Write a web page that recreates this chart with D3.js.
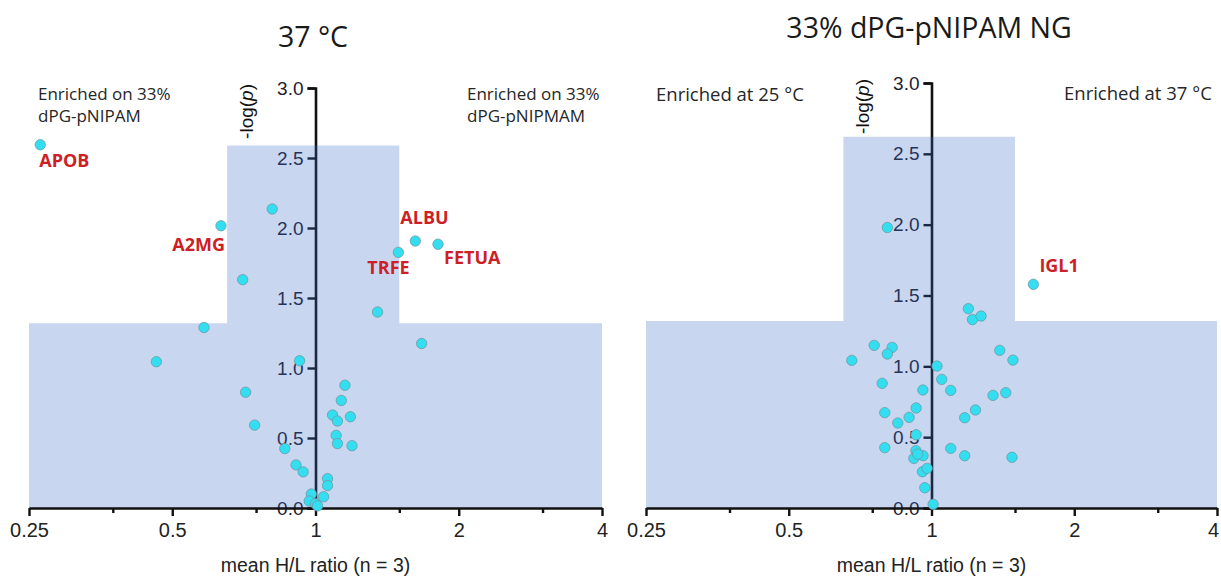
<!DOCTYPE html>
<html><head><meta charset="utf-8">
<script src="https://cdn.jsdelivr.net/npm/d3@7"></script>
<style>body{margin:0;background:#fff} svg{display:block}</style>
</head><body>
<svg id="chart" width="1221" height="577"></svg>
<script>
// ---- tick data ----
const xTicks = [0.25, 0.5, 1, 2, 4];
const xTickLabels = ["0.25", "0.5", "1", "2", "4"];
const xMinorTicks = [0.375, 0.75, 1.5, 3];
const yTicks = [0, 0.5, 1, 1.5, 2, 2.5, 3];
const yTickLabels = ["0.0", "0.5", "1.0", "1.5", "2.0", "2.5", "3.0"];

// ---- shaded significance region (ratio bounds, -log(p) heights) ----
const shadeRatioBounds = [0.652, 1.5];
const shadeHeightsLeft = [1.32, 2.59];
const shadeHeightsRight = [1.32, 2.62];

// ---- left panel: 37 °C ----
const leftRatio = [0.264, 0.633, 0.811, 0.703, 1.493, 1.621, 1.809, 1.35, 0.583, 0.463,
  0.926, 1.671, 0.713, 0.745, 0.862, 0.910, 0.942, 0.98, 0.97, 1.0, 1.01, 1.04, 1.06, 1.06,
  1.153, 1.133, 1.086, 1.112, 1.184, 1.105, 1.112, 1.193];
const leftLogP = [2.595, 2.016, 2.136, 1.631, 1.826, 1.907, 1.884, 1.40, 1.289, 1.045,
  1.052, 1.175, 0.827, 0.592, 0.424, 0.308, 0.258, 0.10, 0.05, 0.03, 0.015, 0.08, 0.21, 0.16,
  0.877, 0.768, 0.664, 0.621, 0.652, 0.519, 0.46, 0.445];
const leftNames = ["APOB", "A2MG", "", "", "TRFE", "ALBU", "FETUA"];

// ---- right panel: 33% dPG-pNIPAM NG ----
const rightRatio = [0.807, 1.64, 1.196, 1.22, 1.272, 0.757, 0.826, 0.807, 0.679, 1.393,
  1.485, 1.027, 1.051, 1.098, 0.787, 0.959, 1.348, 1.434, 0.797, 0.928, 0.897, 0.849,
  1.238, 1.175, 0.928, 0.797, 0.927, 0.918, 0.96, 0.935, 1.098, 1.175, 1.478, 0.957,
  0.979, 0.968, 1.008];
const rightLogP = [1.98, 1.579, 1.407, 1.33, 1.355, 1.148, 1.134, 1.087, 1.042, 1.113,
  1.044, 1.002, 0.908, 0.830, 0.88, 0.833, 0.795, 0.814, 0.673, 0.706, 0.64, 0.60,
  0.692, 0.637, 0.517, 0.426, 0.405, 0.35, 0.369, 0.38, 0.421, 0.369, 0.358, 0.256,
  0.28, 0.143, 0.026];
const rightNames = ["", "IGL1"];

const svg = d3.select("#chart");
const FONT_AX = "'Liberation Sans', Arial, sans-serif";
const FONT_TX = "'Open Sans', 'Noto Sans', sans-serif";

const panels = [
  { title: "37 °C", titleX: 313, titleY: 47,
    xr: [29, 602], yr: [508, 88], lastShift: 0,
    ratio: leftRatio, logp: leftLogP, names: leftNames, shadeH: shadeHeightsLeft,
    notes: [ {x: 38, y: 100, size: 17, lines: ["Enriched on 33%", "dPG-pNIPAM"]},
             {x: 467, y: 100, size: 17, lines: ["Enriched on 33%", "dPG-pNIPMAM"]} ],
    labelOff: { APOB: [-1, 22, "start"], A2MG: [4, 25, "end"], TRFE: [-31, 22, "start"],
                ALBU: [-15, -17, "start"], FETUA: [6, 20, "start"] } },
  { title: "33% dPG-pNIPAM NG", titleX: 929, titleY: 38,
    xr: [646, 1217], yr: [508, 83], lastShift: -4,
    ratio: rightRatio, logp: rightLogP, names: rightNames, shadeH: shadeHeightsRight,
    notes: [ {x: 656, y: 101, size: 18.5, lines: ["Enriched at 25 °C"]},
             {x: 1064, y: 100, size: 18.5, lines: ["Enriched at 37 °C"]} ],
    labelOff: { IGL1: [6, -12, "start"] } }
];

panels.forEach(p => {
  const x = d3.scaleLog().base(2).domain([0.25, 4]).range(p.xr);
  const y = d3.scaleLinear().domain([0, 3]).range(p.yr);
  const g = svg.append("g");
  const ax = x(1);

  // title
  g.append("text").attr("x", p.titleX).attr("y", p.titleY)
    .attr("text-anchor", "middle").attr("font-family", FONT_TX)
    .attr("font-size", 28.5).attr("fill", "#1a1a1a").text(p.title);

  // notes
  p.notes.forEach(n => {
    n.lines.forEach((l, i) => {
      g.append("text").attr("x", n.x).attr("y", n.y + i * 22)
        .attr("font-family", FONT_TX)
        .attr("font-size", n.size).attr("fill", "#262626").text(l);
    });
  });

  // y axis (drawn under the shading)
  const yAxis = d3.axisLeft(y).tickValues(yTicks)
    .tickFormat((d, i) => yTickLabels[i]).tickSize(8).tickPadding(4);
  const ya = g.append("g").attr("transform", `translate(${ax},0)`).call(yAxis);
  ya.select(".domain").attr("stroke", "#111").attr("stroke-width", 2.6);
  ya.selectAll(".tick line").attr("stroke", "#111").attr("stroke-width", 2.4);
  ya.selectAll(".tick text").attr("font-family", FONT_AX).attr("font-size", 19)
    .attr("fill", "#1c2230");

  // y title
  const yt = g.append("text")
    .attr("transform", `translate(${ax - 63},${y(3) - 4}) rotate(-90)`)
    .attr("text-anchor", "end").attr("font-family", FONT_AX)
    .attr("font-size", 19).attr("fill", "#111");
  yt.append("tspan").text("-log(");
  yt.append("tspan").attr("font-style", "italic").text("p");
  yt.append("tspan").text(")");

  // shading
  const [lo, hi] = shadeRatioBounds;
  const [h1, h2] = p.shadeH;
  const poly = [[0.25, 0], [0.25, h1], [lo, h1], [lo, h2], [hi, h2], [hi, h1], [4, h1], [4, 0]];
  g.append("path").attr("d", d3.line().x(d => x(d[0])).y(d => y(d[1]))(poly) + "Z")
    .attr("fill", "rgb(55,105,195)").attr("fill-opacity", 0.27);

  // x axis
  const xAxis = d3.axisBottom(x).tickValues(xTicks)
    .tickFormat((d, i) => xTickLabels[i]).tickSize(8).tickPadding(7).tickSizeOuter(0);
  const xa = g.append("g").attr("transform", `translate(0,${y(0)})`).call(xAxis);
  xa.select(".domain").attr("stroke", "#111").attr("stroke-width", 2.6);
  xa.selectAll(".tick line").attr("stroke", "#111").attr("stroke-width", 2.4);
  xa.selectAll(".tick text").attr("font-family", FONT_AX).attr("font-size", 20)
    .attr("fill", "#222")
    .attr("dx", (d, i) => i === xTicks.length - 1 ? p.lastShift : 0);
  const xm = d3.axisBottom(x).tickValues(xMinorTicks).tickFormat("").tickSize(5).tickSizeOuter(0);
  const xmg = g.append("g").attr("transform", `translate(0,${y(0)})`).call(xm);
  xmg.select(".domain").remove();
  xmg.selectAll(".tick line").attr("stroke", "#111").attr("stroke-width", 2.4);

  // x title
  g.append("text").attr("x", ax).attr("y", 572).attr("text-anchor", "middle")
    .attr("font-family", FONT_AX).attr("font-size", 19.5).attr("fill", "#222")
    .text("mean H/L ratio (n = 3)");

  // points
  const pts = p.ratio.map((r, i) => ({ r, v: p.logp[i], name: p.names[i] || "" }));
  g.selectAll("circle.pt").data(pts).enter().append("circle").attr("class", "pt")
    .attr("cx", d => x(d.r)).attr("cy", d => y(d.v)).attr("r", 5.2)
    .attr("fill", "#33def0").attr("stroke", "#6b939e").attr("stroke-width", 0.7);

  // labels
  pts.filter(d => d.name).forEach(d => {
    const o = p.labelOff[d.name];
    g.append("text").attr("x", x(d.r) + o[0]).attr("y", y(d.v) + o[1])
      .attr("text-anchor", o[2]).attr("font-family", FONT_TX).attr("font-weight", 700)
      .attr("font-size", 18).attr("fill", "#cc1f26").text(d.name);
  });
});
</script>
</body></html>
